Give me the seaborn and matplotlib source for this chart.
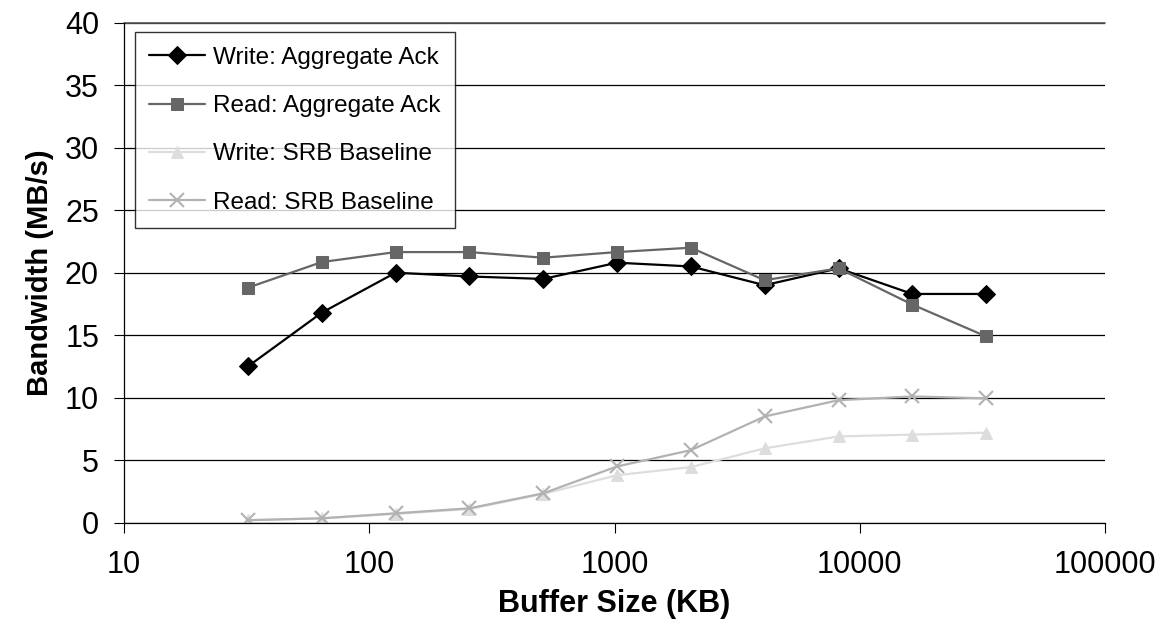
import numpy as np
import pandas as pd
import matplotlib
matplotlib.use("Agg")
import matplotlib.pyplot as plt
import seaborn as sns
from matplotlib.ticker import NullLocator, FuncFormatter

buffer_kb = [32, 64, 128, 256, 512, 1024, 2048, 4096, 8192, 16384, 32768]
write_agg = [12.5, 16.8, 20.0, 19.7, 19.5, 20.8, 20.5, 19.0, 20.35, 18.3, 18.3]
read_agg = [18.8, 20.85, 21.65, 21.65, 21.2, 21.65, 22.0, 19.4, 20.35, 17.45, 14.9]
write_srb = [0.2, 0.35, 0.7, 1.1, 2.3, 3.8, 4.45, 5.95, 6.9, 7.05, 7.2]
read_srb = [0.2, 0.35, 0.75, 1.15, 2.35, 4.5, 5.8, 8.5, 9.8, 10.1, 9.95]

series_names = ["Write: Aggregate Ack", "Read: Aggregate Ack",
                "Write: SRB Baseline", "Read: SRB Baseline"]
x_ticks = [10, 100, 1000, 10000, 100000]
y_ticks = [0, 5, 10, 15, 20, 25, 30, 35, 40]

sns.set_theme(style="white")
plt.rcParams['font.family'] = ['Liberation Sans', 'DejaVu Sans']
plt.rcParams['text.color'] = 'black'
plt.rcParams['axes.labelcolor'] = 'black'

df = pd.DataFrame({
    "Buffer": buffer_kb * 4,
    "Bandwidth": write_agg + read_agg + write_srb + read_srb,
    "Series": sum([[n] * len(buffer_kb) for n in series_names], []),
})

styles = {
    "Write: Aggregate Ack": dict(color="#000000", marker="D", markersize=9, mfc="#000000", mec="#000000"),
    "Read: Aggregate Ack": dict(color="#666666", marker="s", markersize=9, mfc="#666666", mec="#666666"),
    "Write: SRB Baseline": dict(color="#dddddd", marker="^", markersize=9, mfc="#dddddd", mec="#dddddd"),
    "Read: SRB Baseline": dict(color="#b2b2b2", marker="x", markersize=10, mew=1.5, mec="#b2b2b2", mfc="#b2b2b2"),
}

fig = plt.figure(figsize=(11.68, 6.32), dpi=100)
ax = fig.add_axes([124 / 1168, 1 - 522.7 / 632, (1105 - 124) / 1168, 500 / 632])

for name in series_names:
    sub = df[df["Series"] == name]
    st = styles[name]
    sns.lineplot(data=sub, x="Buffer", y="Bandwidth", ax=ax, label=name,
                 linewidth=1.6, **st)

ax.set_xscale("log")
ax.set_xlim(10, 100000)
ax.set_ylim(0, 40)
ax.set_xticks(x_ticks)
ax.xaxis.set_minor_locator(NullLocator())
ax.xaxis.set_major_formatter(FuncFormatter(lambda v, p: f"{int(round(v))}"))
ax.set_yticks(y_ticks)
ax.tick_params(axis="both", labelsize=22, colors="black", length=7, width=0.8,
               direction="out", bottom=True, left=True)
ax.tick_params(axis="x", pad=13)
ax.tick_params(axis="y", pad=11)

ax.grid(axis="y", color="black", linewidth=0.9)
ax.grid(axis="x", visible=False)
for s in ["top", "right"]:
    ax.spines[s].set_visible(False)
for s in ["left", "bottom"]:
    ax.spines[s].set_color("black")
    ax.spines[s].set_linewidth(0.9)
ax.axhline(40, color="#555555", linewidth=1.2, clip_on=False)

ax.set_xlabel("Buffer Size (KB)", fontsize=22, fontweight="bold", labelpad=6, color="black")
ax.set_ylabel("Bandwidth (MB/s)", fontsize=21, fontweight="bold", labelpad=8, color="black")

leg = ax.legend(loc="upper left", bbox_to_anchor=(0.011, 0.981), borderaxespad=0,
                fontsize=17.5, frameon=True, fancybox=False, edgecolor="black",
                handlelength=2.3, handletextpad=0.3, labelspacing=1.08,
                borderpad=0.6)
leg.get_frame().set_linewidth(1.0)
for t in leg.get_texts():
    t.set_color("black")

fig.savefig("out.png", dpi=100)
